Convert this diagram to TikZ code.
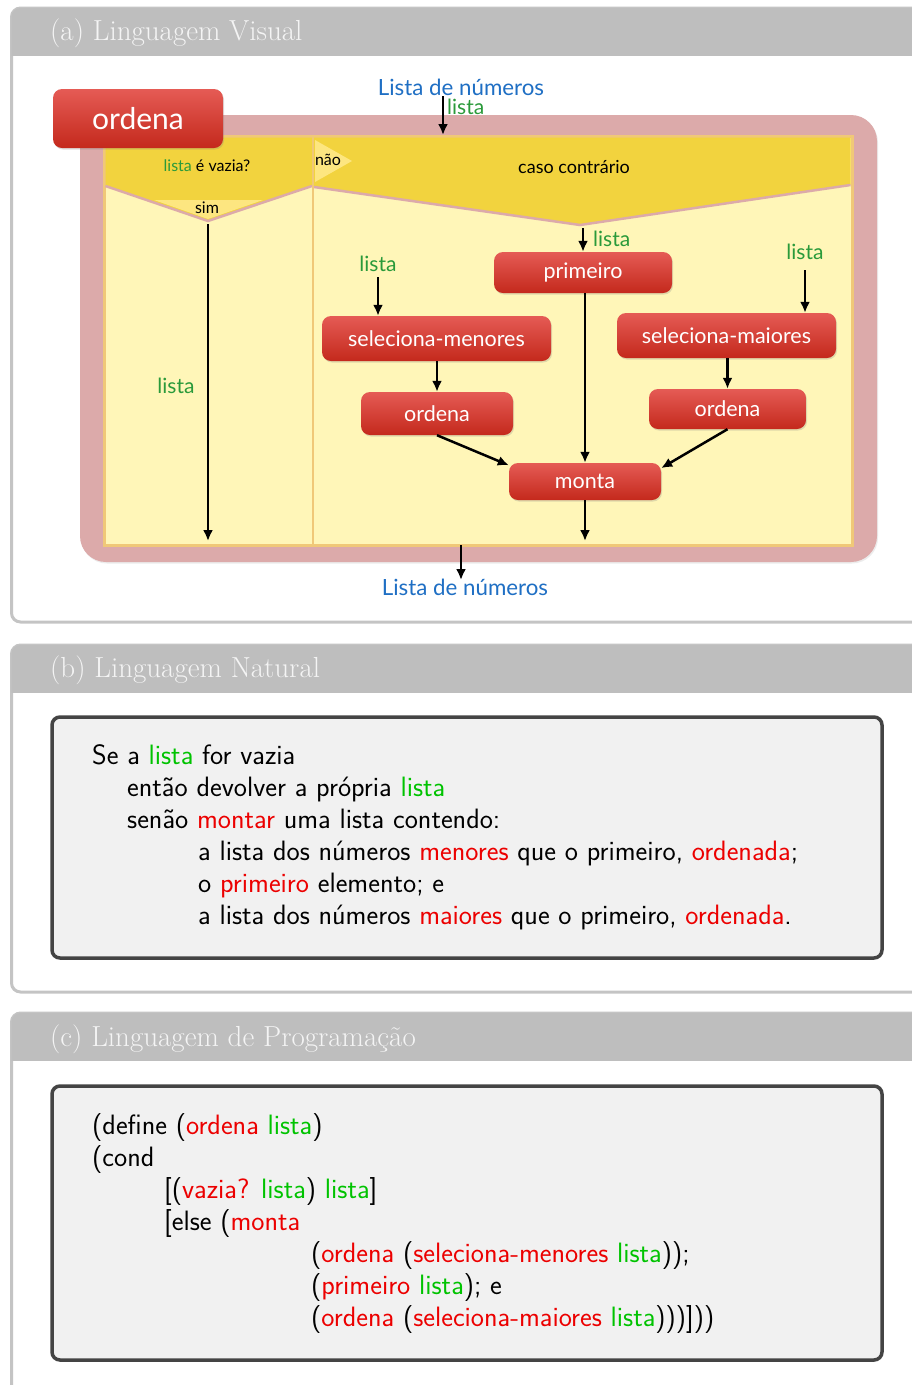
\documentclass[tikz,border=0pt]{standalone}
\usepackage{fontspec}
\newfontfamily\gill{Lato}
\usetikzlibrary{arrows.meta,shadows}
\definecolor{hdr}{HTML}{BEBEBE}
\definecolor{pborder}{HTML}{C4C4C4}
\definecolor{hdrtext}{HTML}{F4F4F4}
\definecolor{bborder}{HTML}{444444}
\definecolor{bfill}{HTML}{F1F1F1}
\definecolor{pinkc}{HTML}{DCAAAA}
\definecolor{paley}{HTML}{FFF6B8}
\definecolor{tanc}{HTML}{F0C878}
\definecolor{goldc}{HTML}{F2D33E}
\definecolor{lighty}{HTML}{FDE680}
\definecolor{rtop}{HTML}{E55B55}
\definecolor{rbot}{HTML}{C4291C}
\definecolor{dgreen}{HTML}{2A9A3A}
\definecolor{dblue}{HTML}{1F6FC4}
\definecolor{tgreen}{RGB}{0,195,0}
\definecolor{tred}{RGB}{236,0,0}
\newcommand{\gr}[1]{\textcolor{tgreen}{#1}}
\newcommand{\rd}[1]{\textcolor{tred}{#1}}
\begin{document}
\begin{tikzpicture}[x=1pt,y=-1pt,
  redbox/.style={rounded corners=9pt, inner sep=0pt, text=white,
    top color=rtop, bottom color=rbot,
    drop shadow={opacity=0.25, shadow xshift=1pt, shadow yshift=-1.5pt},
    font=\gill\fontsize{21.5}{24}\selectfont},
  arr/.style={line width=2.5pt, -{Latex[length=11pt,width=10pt]}},
  lbl/.style={text=dgreen, inner sep=0pt, font=\gill\fontsize{21}{24}\selectfont},
  bluelbl/.style={text=dblue, inner sep=0pt, font=\gill\fontsize{22.3}{24}\selectfont},
  small/.style={inner sep=0pt, font=\gill\fontsize{16}{18}\selectfont},
  title/.style={anchor=base west, inner sep=0pt, text=hdrtext, font=\rmfamily\fontsize{29}{32}\selectfont},
  body/.style={anchor=base west, inner sep=0pt, font=\sffamily\fontsize{28}{32}\selectfont}
]
\useasboundingbox (0,0) rectangle (911,1385);

% ---------- panels ----------
\foreach \top/\bot in {8/622, 645/992, 1013/1420}{
  \draw[pborder, line width=3pt, fill=white, rounded corners=9pt] (11.5,\top) rectangle (940,\bot);
  \begin{scope}
    \clip[rounded corners=9pt] (11.5,\top) rectangle (940,\bot);
    \fill[hdr] (0,\top-5) rectangle (940,\top+48);
  \end{scope}
}
\node[title] (ta) at (50,40) {(a) Linguagem Visual};
\node[title] (tb) at (50,677) {(b) Linguagem Natural};
\node[title] (tc) at (50,1046) {(c) Linguagem de Programação};

% ---------- panel (a) diagram ----------
\fill[pinkc, rounded corners=26pt, drop shadow={opacity=0.15, shadow xshift=1pt, shadow yshift=-1.5pt}] (80,115) rectangle (877,562);
\draw[tanc, line width=3pt, fill=paley] (104,136) rectangle (852,545);
% left header
\fill[goldc] (105.5,137.5) -- (312,137.5) -- (312,186) -- (208,221) -- (105.5,186) -- cycle;
\fill[lighty] (154,200) -- (263,200) -- (208,219) -- cycle;
\draw[pinkc, line width=2.5pt] (105.5,186) -- (208,221) -- (312,186);
% right header
\fill[goldc] (314,137.5) -- (850.5,137.5) -- (850.5,185) -- (580,225) -- (314,187) -- cycle;
\draw[pinkc, line width=2.5pt] (314,187) -- (580,225) -- (850.5,185);
\fill[lighty] (315,140) -- (352,161) -- (315,182) -- cycle;
\draw[tanc, line width=2pt] (313,137) -- (313,544);

\node[small] (vazia) at (207,166) {\textcolor{dgreen}{lista} é vazia?};
\node[small] (nao) at (328,160) {não};
\node[small] (sim) at (207,208) {sim};
\node[small, font=\gill\fontsize{18}{20}\selectfont] (caso) at (574,167) {caso contrário};

% red nodes
\node[redbox, minimum width=170pt, minimum height=59pt, font=\gill\fontsize{30}{32}\selectfont] (ordBig) at (138,118.5) {ordena};
\node[redbox, minimum width=178pt, minimum height=41pt] (prim) at (583,272.5) {primeiro};
\node[redbox, minimum width=229pt, minimum height=45pt] (selmen) at (436.5,338.5) {seleciona-menores};
\node[redbox, minimum width=152pt, minimum height=43pt] (ordL) at (437,413.5) {ordena};
\node[redbox, minimum width=219pt, minimum height=45pt] (selmai) at (726.5,335.5) {seleciona-maiores};
\node[redbox, minimum width=157pt, minimum height=40pt] (ordR) at (727.5,409) {ordena};
\node[redbox, minimum width=152pt, minimum height=37pt] (monta) at (585,481.5) {monta};

% labels
\node[bluelbl] (inLbl) at (461,87) {Lista de números};
\node[bluelbl] (outLbl) at (465,587) {Lista de números};
\node[lbl, anchor=west] (l0) at (447,107) {lista};
\node[lbl] (l1) at (176,386) {lista};
\node[lbl, anchor=west] (l2) at (593,239) {lista};
\node[lbl] (l3) at (378,264) {lista};
\node[lbl] (l4) at (805,252) {lista};

% coordinates
\coordinate (inS) at (443,96);
\coordinate (inE) at (443,135);
\coordinate (simS) at (208,224);
\coordinate (simE) at (208,541);
\coordinate (apex) at (583,228);
\coordinate (l3S) at (378,277);
\coordinate (l4S) at (805,270);
\coordinate (montaE) at (585,541);
\coordinate (outS) at (461,545);
\coordinate (outE) at (461,580);

% arrows
\draw[arr] (inS) -- (inE);
\draw[arr] (simS) -- (simE);
\draw[arr] (apex) -- (prim.north);
\draw[arr] (l3S) -- (l3S |- selmen.north);
\draw[arr] (ordL.north |- selmen.south) -- (ordL.north);
\draw[arr] (l4S) -- (l4S |- selmai.north);
\draw[arr] (ordR.north |- selmai.south) -- (ordR.north);
\draw[arr] (prim.south -| monta.north) -- (monta.north);
\draw[arr] (ordL.south) -- (monta.168);
\draw[arr] (ordR.south) -- (monta.10);
\draw[arr] (monta.south) -- (montaE);
\draw[arr] (outS) -- (outE);

% ---------- panel (b) ----------
\draw[bborder, line width=3.5pt, fill=bfill, rounded corners=8pt] (52,717) rectangle (882,958);
\node[body] (b1) at (92,764) {Se a \gr{lista} for vazia};
\node[body] (b2) at (127,796) {então devolver a própria \gr{lista}};
\node[body] (b3) at (127,828) {senão \rd{montar} uma lista contendo:};
\node[body] (b4) at (198,860) {a lista dos números \rd{menores} que o primeiro, \rd{ordenada};};
\node[body] (b5) at (198,892) {o \rd{primeiro} elemento; e};
\node[body] (b6) at (198,924) {a lista dos números \rd{maiores} que o primeiro, \rd{ordenada}.};

% ---------- panel (c) ----------
\draw[bborder, line width=3.5pt, fill=bfill, rounded corners=8pt] (52,1086) rectangle (882,1360);
\node[body] (c1) at (92,1134) {(define (\rd{ordena} \gr{lista})};
\node[body] (c2) at (92,1166) {(cond};
\node[body] (c3) at (164,1198) {[(\rd{vazia?} \gr{lista}) \gr{lista}]};
\node[body] (c4) at (164,1230) {[else (\rd{monta}};
\node[body] (c5) at (311,1262) {(\rd{ordena} (\rd{seleciona-menores} \gr{lista}));};
\node[body] (c6) at (311,1294) {(\rd{primeiro} \gr{lista}); e};
\node[body] (c7) at (311,1326) {(\rd{ordena} (\rd{seleciona-maiores} \gr{lista})))]))};
\end{tikzpicture}
\end{document}
